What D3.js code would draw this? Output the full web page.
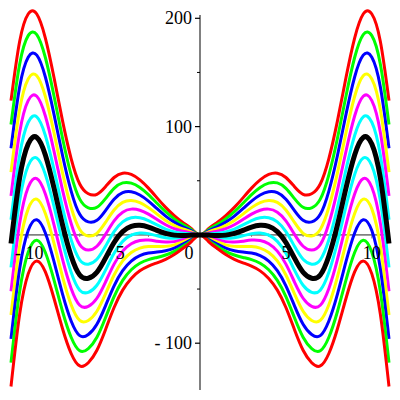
<!DOCTYPE html>
<html>
<head>
<meta charset="utf-8">
<script src="https://d3js.org/d3.v7.min.js"></script>
<style>
  html, body { margin: 0; padding: 0; background: #fff; }
  svg { display: block; }
  text { font-family: "Liberation Serif", "Times New Roman", serif; font-size: 18px; fill: #000; }
</style>
</head>
<body>
<svg id="chart" width="400" height="400"></svg>
<script>
// x positions of samples (step 0.5)
const xs = d3.range(-22, 23).map(i => i / 2);
// black (middle) curve, read at x = 0, 0.5, ..., 11 (curve is symmetric)
const blackHalf = [0, -0.2, -0.5, -0.2, 1.4, 4.2, 7.2, 8.8, 7.8, 3.0, -7, -21.5, -34.5, -40, -37, -19.5, 9.3, 43.5, 73.8, 90, 84, 52.4, -8];
// vertical gap between neighbouring curves, read at x = 0, 0.5, ..., 11
const gapHalf = [0, 1, 2, 3, 4, 5, 6, 7, 8, 9, 10, 11, 12, 13, 14, 15, 16, 17, 18, 19, 20, 21, 22];
const blackValues = blackHalf.slice(1).reverse().concat(blackHalf);
const gapValues = gapHalf.slice(1).reverse().concat(gapHalf);
// curve family: step offsets and colours
const steps = [6, 5, 4, 3, 2, 1, -1, -2, -3, -4, -5, -6];
const stepColors = {6: "#ff0000", 5: "#00ff00", 4: "#0000ff", 3: "#ffff00", 2: "#ff00ff", 1: "#00ffff"};
// tick labels
const xTickLabels = [{v: -10, t: "- 10"}, {v: -5, t: "- 5"}, {v: 0, t: "0"}, {v: 5, t: "5"}, {v: 10, t: "10"}];
const yTickLabels = [{v: 200, t: "200"}, {v: 100, t: "100"}, {v: -100, t: "- 100"}];
const yMinorTicks = [150, 50, -50];
const xMinorTicks = d3.range(-11, 12).filter(v => v !== 0);

const svg = d3.select("#chart");
const x = d3.scaleLinear().domain([-11, 11]).range([11, 389]);
const y = d3.scaleLinear().domain([0, 100]).range([234.9, 126.6]);

// axes
const axisColor = "#808080";
svg.append("line").attr("x1", 10).attr("x2", 390).attr("y1", y(0)).attr("y2", y(0))
  .attr("stroke", axisColor).attr("stroke-width", 1.6);
svg.append("line").attr("x1", x(0)).attr("x2", x(0)).attr("y1", 15).attr("y2", 390)
  .attr("stroke", axisColor).attr("stroke-width", 2);

svg.selectAll(".xt").data(xMinorTicks).enter().append("line")
  .attr("x1", d => x(d)).attr("x2", d => x(d))
  .attr("y1", y(0) - 1.5).attr("y2", d => y(0) + (d % 5 === 0 ? 3.5 : 2))
  .attr("stroke", axisColor).attr("stroke-width", 1);
svg.selectAll(".ytm").data(yTickLabels).enter().append("line")
  .attr("x1", x(0) - 5).attr("x2", x(0)).attr("y1", d => y(d.v)).attr("y2", d => y(d.v))
  .attr("stroke", "#000").attr("stroke-width", 1.2);
svg.selectAll(".ytn").data(yMinorTicks).enter().append("line")
  .attr("x1", x(0) - 3).attr("x2", x(0)).attr("y1", d => y(d)).attr("y2", d => y(d))
  .attr("stroke", "#000").attr("stroke-width", 1);

// curves
const line = d3.line().x(d => x(d[0])).y(d => y(d[1])).curve(d3.curveNatural);
steps.forEach(k => {
  const pts = xs.map((xv, i) => [xv, blackValues[i] + k * gapValues[i]]);
  svg.append("path").attr("d", line(pts)).attr("fill", "none")
    .attr("stroke", stepColors[Math.abs(k)]).attr("stroke-width", 3);
});
svg.append("path").attr("d", line(xs.map((xv, i) => [xv, blackValues[i]])))
  .attr("fill", "none").attr("stroke", "#000").attr("stroke-width", 5);

// labels
svg.selectAll(".xl").data(xTickLabels).enter().append("text")
  .attr("x", d => d.v === 0 ? 189 : x(d.v) + (d.v < 0 ? 1 : 0)).attr("y", 259)
  .attr("text-anchor", "middle").text(d => d.t);
svg.selectAll(".yl").data(yTickLabels).enter().append("text")
  .attr("x", 192).attr("y", d => y(d.v) + 6)
  .attr("text-anchor", "end").text(d => d.t);
</script>
</body>
</html>
